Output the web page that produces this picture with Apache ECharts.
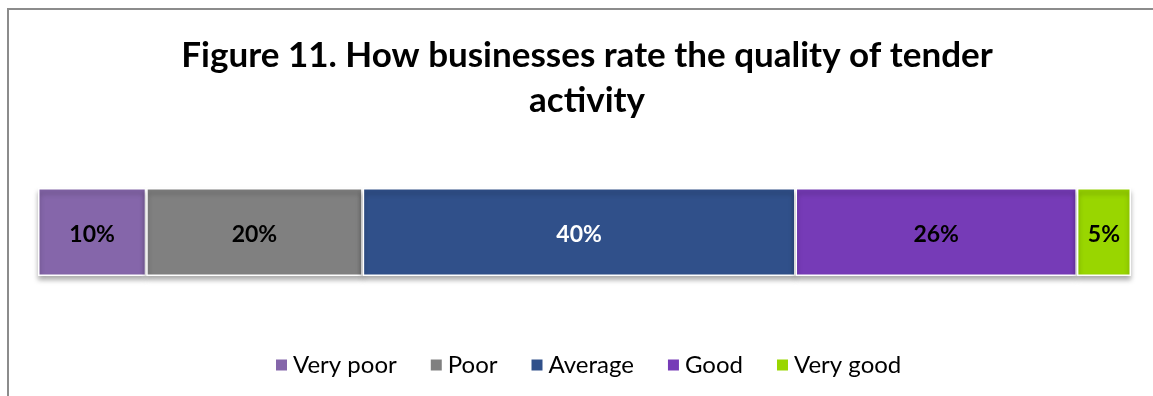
<!DOCTYPE html>
<html>
<head>
<meta charset="utf-8">
<script src="https://cdn.jsdelivr.net/npm/echarts@6/dist/echarts.min.js"></script>
<style>
  html, body { margin: 0; padding: 0; background: #fff; }
  #chart { width: 1153px; height: 396px; }
</style>
</head>
<body>
<div id="chart"></div>
<script>
// Survey answers: share of businesses per rating
const categories = ['Very poor', 'Poor', 'Average', 'Good', 'Very good'];
const values = [10, 20, 40, 26, 5];
const colors = ['#8566aa', '#808080', '#30508a', '#763bb7', '#99d600'];
const labelColors = ['#000', '#000', '#fff', '#000', '#000'];

const total = values.reduce((a, b) => a + b, 0);
const FONT = 'Lato, "Open Sans", sans-serif';

const chart = echarts.init(document.getElementById('chart'), null, { renderer: 'canvas' });

const series = categories.map((name, i) => ({
  name: name,
  type: 'bar',
  stack: 'total',
  barWidth: '100%',
  data: [values[i]],
  itemStyle: {
    color: colors[i],
    borderColor: '#ffffff',
    borderWidth: 1.5,
    shadowColor: 'rgba(0,0,0,0.35)',
    shadowBlur: 5,
    shadowOffsetY: 4
  },
  label: {
    show: true,
    position: 'inside',
    offset: [0, 3],
    formatter: '{c}%',
    color: labelColors[i],
    fontFamily: FONT,
    fontWeight: 'bold',
    fontSize: 23
  }
}));

chart.setOption({
  animation: false,
  backgroundColor: '#ffffff',
  title: {
    text: 'Figure 11. How businesses rate the quality of tender\nactivity',
    left: 582,
    top: 28,
    textAlign: 'center',
    textStyle: {
      fontFamily: FONT,
      fontWeight: 'bold',
      fontSize: 35,
      lineHeight: 45,
      color: '#000'
    }
  },
  legend: {
    data: categories,
    bottom: 14,
    left: 269,
    icon: 'rect',
    itemWidth: 13,
    itemHeight: 13,
    itemGap: 32,
    textStyle: { fontFamily: FONT, fontSize: 24, color: '#000' }
  },
  grid: { left: 38, right: 22, top: 188, height: 88, containLabel: false },
  xAxis: {
    type: 'value',
    min: 0,
    max: total,
    show: false
  },
  yAxis: {
    type: 'category',
    data: [''],
    show: false
  },
  graphic: [{
    type: 'rect',
    shape: { x: 8, y: 9, width: 1200, height: 500 },
    style: { fill: null, stroke: '#8c8c8c', lineWidth: 2 },
    silent: true
  }],
  series: series
});
</script>
</body>
</html>
